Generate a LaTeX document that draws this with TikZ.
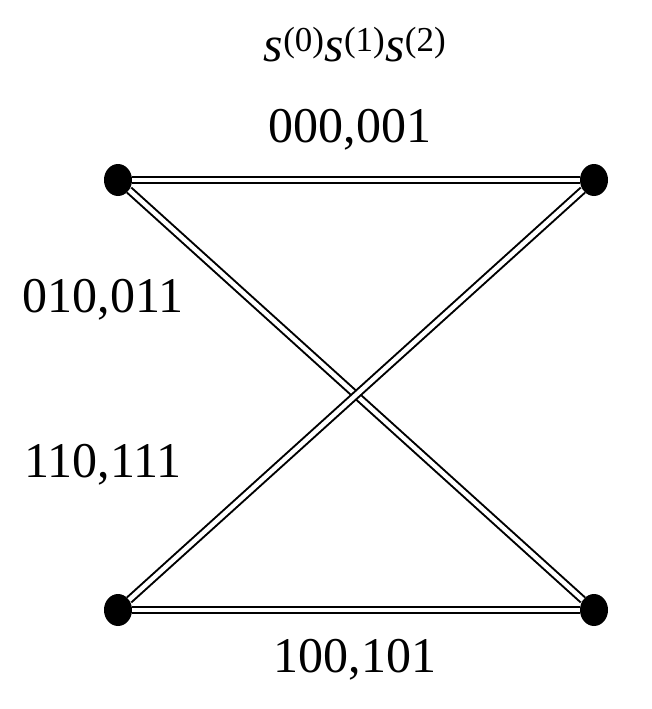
\documentclass[tikz,border=0pt]{standalone}
\usepackage{fontspec}
\setmainfont{Liberation Serif}
\usetikzlibrary{shapes.geometric}
\begin{document}
\begin{tikzpicture}[x=1pt,y=-1pt,
  dot/.style={ellipse,fill=black,minimum width=28pt,minimum height=32pt,inner sep=0pt},
  edge/.style={double,double distance=4.5pt,line width=2pt},
  lab/.style={font=\fontsize{50}{54}\selectfont}]
\path[use as bounding box] (0,0) rectangle (652,709);
\node[dot] (a) at (118,180) {};
\node[dot] (b) at (594,180) {};
\node[dot] (c) at (118,610) {};
\node[dot] (d) at (594,610) {};
\draw[edge] (a) -- (b);
\draw[edge] (c) -- (d);
\draw[edge] (a) -- (d);
\draw[edge] (c) -- (b);
\node[lab] (t) at (355,45) {\textit{s}\textsuperscript{(0)}\textit{s}\textsuperscript{(1)}\textit{s}\textsuperscript{(2)}};
\node[lab] (l1) at (350,130) {000,001};
\node[lab] (l2) at (103,300) {010,011};
\node[lab] (l3) at (103,465) {110,111};
\node[lab] (l4) at (355,660) {100,101};
\end{tikzpicture}
\end{document}
